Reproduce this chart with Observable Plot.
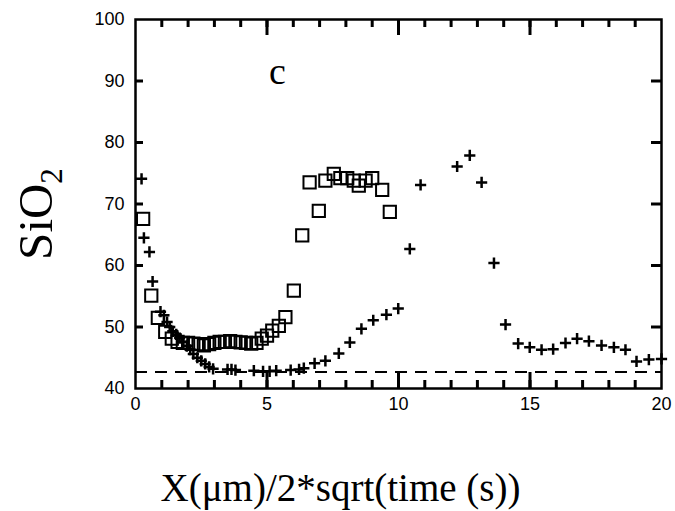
<!DOCTYPE html>
<html><head><meta charset="utf-8">
<script src="https://cdn.jsdelivr.net/npm/d3@7"></script>
<script src="https://cdn.jsdelivr.net/npm/@observablehq/plot@0.6"></script>
<style>body{margin:0;background:#fff}</style>
</head><body><div id="chart"></div>
<script>
// Open squares series
const squareX = [0.29,0.6,0.85,1.13,1.38,1.6,1.8,2.0,2.2,2.4,2.6,2.8,3.0,3.2,3.4,3.6,3.8,4.0,4.2,4.4,4.6,4.8,5.0,5.2,5.45,5.7,6.02,6.34,6.62,6.97,7.22,7.54,7.79,8.05,8.3,8.49,8.75,9.0,9.38,9.67];
const squareY = [67.6,55.1,51.5,49.2,48.1,47.6,47.4,47.4,47.3,47.2,47.0,47.2,47.4,47.6,47.6,47.7,47.6,47.5,47.4,47.3,47.4,48.1,48.6,49.4,50.2,51.6,55.9,64.9,73.5,68.9,73.8,74.9,74.2,74.2,73.8,73.0,73.8,74.2,72.3,68.7];
// Plus series
const plusX = [0.23,0.32,0.53,0.65,0.95,1.08,1.2,1.3,1.42,1.55,1.68,1.8,1.95,2.08,2.2,2.35,2.5,2.65,2.8,2.95,3.5,3.65,3.8,4.5,4.85,5.1,5.35,5.9,6.22,6.4,6.81,7.22,7.73,8.15,8.59,9.04,9.54,9.99,10.43,10.84,12.23,12.71,13.16,13.63,14.07,14.55,14.99,15.44,15.88,16.35,16.79,17.24,17.72,18.19,18.63,19.05,19.52,20.0];
const plusY = [74.1,64.5,62.2,57.4,52.5,51.9,50.8,50.0,49.3,48.8,48.2,47.6,46.9,46.3,45.6,45.0,44.5,44.0,43.5,43.2,43.1,43.1,43.0,42.9,42.8,42.8,42.9,43.0,43.1,43.3,44.1,44.5,45.7,47.5,49.7,51.1,52.0,53.0,62.7,73.1,76.1,77.9,73.5,60.4,50.4,47.3,46.7,46.3,46.4,47.4,48.1,47.7,47.0,46.7,46.3,44.4,44.7,44.8];
const dashedLevel = 42.7;
const xTickLabels = [0,5,10,15,20];
const xMinorTicks = d3.range(1,20);
const xMajorTicks = [5,10,15];
const yTickLabels = [40,50,60,70,80,90,100];
const yInnerTicks = [50,60,70,80,90];
const panelLabel = [{x: 5.4, y: 91.5, t: "c"}];
const xTitle = "X(μm)/2*sqrt(time (s))";
const yTitleMain = "SiO";
const yTitleSub = "2";

const squares = squareX.map((x,i)=>({x, y: squareY[i]}));
const pluses = plusX.map((x,i)=>({x, y: plusY[i]}));

const W = 675, H = 511, mL = 135, mR = 14, mT = 19, mB = 123;
const fw = W - mL - mR, fh = H - mT - mB;
const xDom = [0, 20], yDom = [40, 100];
// tick lengths (pixels) expressed in scale units
const pxX = (xDom[1] - xDom[0]) / fw, pxY = (yDom[1] - yDom[0]) / fh;
const tk = {stroke: "black", strokeWidth: 3};

const sans = "'Liberation Sans', Arial, sans-serif";
const serif = "'Liberation Serif', 'Times New Roman', serif";
const chart = Plot.plot({
  width: W, height: H,
  marginLeft: mL, marginRight: mR, marginTop: mT, marginBottom: mB,
  x: {domain: xDom},
  y: {domain: yDom},
  marks: [
    Plot.ruleX(xMinorTicks, {x: d => d, y1: yDom[0], y2: yDom[0] + 8 * pxY, ...tk}),
    Plot.ruleX(xMajorTicks, {x: d => d, y1: yDom[0], y2: yDom[0] + 16 * pxY, ...tk}),
    Plot.ruleX(xMinorTicks, {x: d => d, y1: yDom[1] - 8 * pxY, y2: yDom[1], ...tk}),
    Plot.ruleX(xMajorTicks, {x: d => d, y1: yDom[1] - 16 * pxY, y2: yDom[1], ...tk}),
    Plot.ruleY(yInnerTicks, {y: d => d, x1: xDom[0], x2: xDom[0] + 8 * pxX, ...tk}),
    Plot.ruleY(yInnerTicks, {y: d => d, x1: xDom[1] - 10 * pxX, x2: xDom[1], ...tk}),
    Plot.ruleY([dashedLevel], {stroke: "black", strokeWidth: 2, strokeDasharray: "12,8"}),
    Plot.axisX({anchor: "bottom", ticks: xTickLabels, tickSize: 0, tickPadding: 9, fontSize: 18, fontFamily: sans, label: null}),
    Plot.axisY({anchor: "left", ticks: yTickLabels, tickSize: 0, tickPadding: 11, fontSize: 18, fontFamily: sans, label: null}),
    Plot.frame({stroke: "black", strokeWidth: 2.5}),
    Plot.dot(pluses, {x: "x", y: "y", symbol: "plus", r: 3.7, stroke: "black", strokeWidth: 2.5}),
    Plot.dot(squares, {x: "x", y: "y", symbol: "square2", r: 7.8, stroke: "black", strokeWidth: 2, fill: "none"}),
    Plot.text(panelLabel, {x: "x", y: "y", text: "t", fontFamily: serif, fontSize: 38, textAnchor: "middle", lineAnchor: "middle"}),
    Plot.text([xTitle], {frameAnchor: "bottom", dx: -58, dy: 100, fontFamily: serif, fontSize: 39, textAnchor: "middle", lineAnchor: "middle"})
  ]
});
document.getElementById("chart").appendChild(chart);
const svg = d3.select(chart);
const yt = svg.append("text")
  .attr("transform", "translate(52,214) rotate(-90)")
  .attr("text-anchor", "middle")
  .attr("font-family", serif)
  .attr("font-size", 49)
  .attr("fill", "black");
yt.append("tspan").text(yTitleMain);
yt.append("tspan").attr("font-size", 31).attr("dy", 10).text(yTitleSub);
</script>
</body></html>
